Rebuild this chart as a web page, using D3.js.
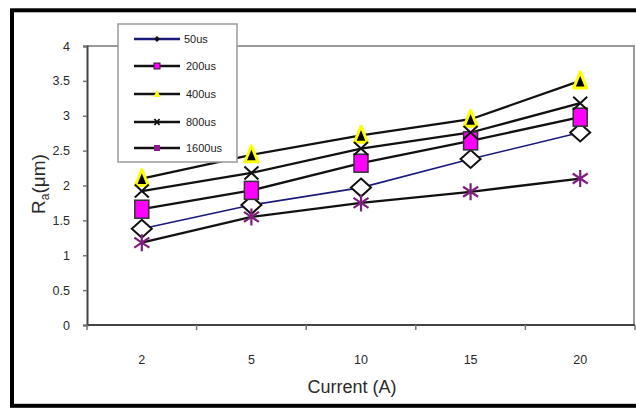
<!DOCTYPE html>
<html><head><meta charset="utf-8">
<script src="https://cdn.jsdelivr.net/npm/d3@7"></script>
<style>html,body{margin:0;padding:0;background:#fff;}svg{display:block;font-family:"Liberation Sans",Arial,sans-serif;}</style>
</head><body><div id="chart"></div>
<script>
const categories = ["2","5","10","15","20"];
const seriesNames = ["50us","200us","400us","800us","1600us"];
const s50 = [1.38,1.72,1.97,2.38,2.76];
const s200 = [1.66,1.93,2.32,2.64,2.98];
const s400 = [2.1,2.44,2.72,2.95,3.5];
const s800 = [1.92,2.18,2.53,2.76,3.18];
const s1600 = [1.18,1.55,1.75,1.91,2.1];
const yTicks = [0,0.5,1,1.5,2,2.5,3,3.5,4];
const xTitle = "Current (A)";

const W=636,H=408;
const svg=d3.select("#chart").append("svg").attr("width",W).attr("height",H);
svg.append("rect").attr("width",W).attr("height",H).attr("fill","#fff");
// outer frame
svg.append("rect").attr("x",12).attr("y",10.3).attr("width",640).attr("height",395.5)
  .attr("fill","none").attr("stroke","#000").attr("stroke-width",4);

const L=87,R=635,T=46,B=325;
const x=d3.scaleBand().domain(categories).range([L,R]);
const y=d3.scaleLinear().domain([0,4]).range([B,T]);
const cx=c=>x(c)+x.bandwidth()/2;

// plot border top/right
svg.append("path").attr("d",`M${L},${T}H${R-1}V${B}`).attr("fill","none").attr("stroke","#9a9a9a").attr("stroke-width",2);

// y axis
const yAx=svg.append("g").attr("transform",`translate(${L},0)`)
  .call(d3.axisLeft(y).tickValues(yTicks).tickSize(4).tickPadding(13).tickFormat(d=>String(d)));
yAx.select(".domain").attr("stroke","#444").attr("stroke-width",2);
yAx.selectAll(".tick line").attr("stroke","#777").attr("stroke-width",1.5);
yAx.selectAll("text").attr("font-size",12.5).attr("fill","#2a2a2a").attr("font-family","Liberation Sans, Arial, sans-serif");

// x axis
const xAx=svg.append("g").attr("transform",`translate(0,${B})`)
  .call(d3.axisBottom(x).tickSize(0).tickPadding(30));
xAx.select(".domain").attr("stroke","#444").attr("stroke-width",2).attr("d",`M${L},0H${R}`);
xAx.selectAll("text").attr("font-size",12.5).attr("fill","#2a2a2a").attr("font-family","Liberation Sans, Arial, sans-serif");
// boundary ticks
const bounds=categories.map(c=>x(c)).concat([x(categories[categories.length-1])+x.bandwidth()]);
svg.append("g").selectAll("line").data(bounds).join("line")
  .attr("x1",d=>d).attr("x2",d=>d).attr("y1",B).attr("y2",B+5).attr("stroke","#777").attr("stroke-width",1.5);

// axis titles
svg.append("text").attr("x",352).attr("y",393).attr("text-anchor","middle").attr("font-size",18).attr("fill","#2a2a2a").text(xTitle);
const yt=svg.append("text").attr("transform","translate(45,184) rotate(-90)").attr("text-anchor","middle").attr("font-size",19).attr("fill","#2a2a2a");
yt.append("tspan").text("R");
yt.append("tspan").attr("font-size",12).attr("dy",4).text("a");
yt.append("tspan").attr("dy",-4).text("(\u03bcm)");

const series=[
 {name:seriesNames[0],vals:s50,color:"#1a1a7a",w:1.6,marker:"diamond"},
 {name:seriesNames[1],vals:s200,color:"#111",w:2.3,marker:"square"},
 {name:seriesNames[2],vals:s400,color:"#111",w:2.3,marker:"triangle"},
 {name:seriesNames[3],vals:s800,color:"#111",w:2.3,marker:"x"},
 {name:seriesNames[4],vals:s1600,color:"#111",w:2.3,marker:"star"}
];
const line=d3.line().x((d,i)=>cx(categories[i])).y(d=>y(d));
series.forEach(s=>{
  svg.append("path").datum(s.vals).attr("d",line).attr("fill","none").attr("stroke",s.color).attr("stroke-width",s.w);
});

function drawMarker(g,type){
  if(type==="diamond"){
    g.append("path").attr("d","M0,-9L10,0L0,9L-10,0Z").attr("fill","#fff").attr("stroke","#111").attr("stroke-width",2);
  }else if(type==="square"){
    g.append("rect").attr("x",-7).attr("y",-9).attr("width",14).attr("height",18).attr("fill","#ff00ff").attr("stroke","#333").attr("stroke-width",1.5);
  }else if(type==="triangle"){
    g.append("path").attr("d","M0,-9L6.5,7L-6.5,7Z").attr("fill","#000").attr("stroke","#ffff00").attr("stroke-width",3).attr("stroke-linejoin","round");
  }else if(type==="x"){
    g.append("path").attr("d","M-7,-6.5L7,6.5M7,-6.5L-7,6.5").attr("stroke","#111").attr("stroke-width",2);
  }else if(type==="star"){
    g.append("path").attr("d","M0,-8.5V8.5M-7.5,-5L7.5,5M7.5,-5L-7.5,5").attr("stroke","#7f1f7f").attr("stroke-width",2.2);
  }
}
series.forEach(s=>{
  s.vals.forEach((v,i)=>{
    drawMarker(svg.append("g").attr("transform",`translate(${cx(categories[i])},${y(v)})`),s.marker);
  });
});

// legend
const lg=svg.append("g");
lg.append("rect").attr("x",118).attr("y",24).attr("width",119).attr("height",138).attr("fill","#fff").attr("stroke","#9a9a9a").attr("stroke-width",1.5);
const rows=[39,66,94,122,148];
const legMarkers=[
  g=>g.append("path").attr("d","M0,-3L3,0L0,3L-3,0Z").attr("fill","#111"),
  g=>g.append("rect").attr("x",-3).attr("y",-3).attr("width",6).attr("height",6).attr("fill","#ff00ff").attr("stroke","#222").attr("stroke-width",1),
  g=>g.append("path").attr("d","M0,-4L3.5,3L-3.5,3Z").attr("fill","#ffff00"),
  g=>g.append("path").attr("d","M-2.5,-3L2.5,3M2.5,-3L-2.5,3").attr("stroke","#111").attr("stroke-width",1.8),
  g=>g.append("rect").attr("x",-3).attr("y",-3).attr("width",6).attr("height",6).attr("fill","#8b1a8b")
];
series.forEach((s,i)=>{
  lg.append("line").attr("x1",134).attr("x2",180).attr("y1",rows[i]).attr("y2",rows[i]).attr("stroke",i===0?"#1a1a7a":"#111").attr("stroke-width",2.3);
  legMarkers[i](lg.append("g").attr("transform",`translate(157,${rows[i]})`));
  lg.append("text").attr("x",i===0?184:186).attr("y",rows[i]+4).attr("font-size",11).attr("fill","#222").text(s.name);
});
</script></body></html>
